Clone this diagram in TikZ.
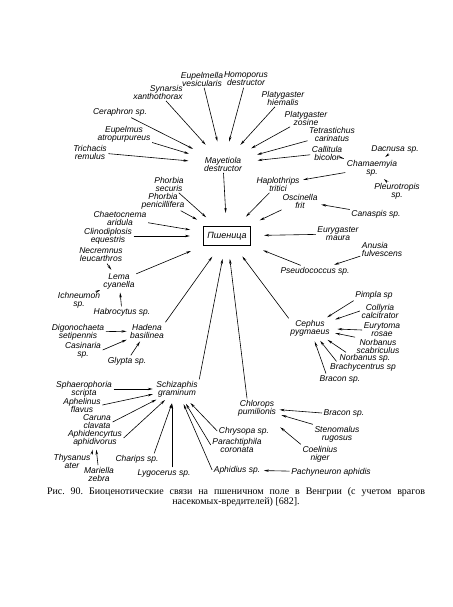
\documentclass[tikz,border=0pt]{standalone}
\usepackage{fontspec}
\setmainfont{Liberation Serif}
\newfontfamily\labfont{Liberation Sans}
\usetikzlibrary{arrows.meta}

\begin{document}
\begin{tikzpicture}[
    x=1pt, y=-1pt,
    every node/.style={font=\labfont\itshape\fontsize{8.5}{8}\selectfont},
    sp/.style={align=center, inner sep=1.5pt},
    host/.style={rectangle, draw, line width=1.1pt, minimum width=47pt, minimum height=19pt, inner sep=2pt},
    arr/.style={-{Stealth[length=5pt,width=2.4pt]}, line width=0.6pt, shorten >=2pt},
    tohost/.style={arr, shorten >=13pt},
    tomay/.style={arr, shorten >=14pt}
]
\useasboundingbox[fill=white] (0,0) rectangle (452,607);

% Host plant
\node[host, font=\labfont\itshape\fontsize{9}{9}\selectfont] (wheat) at (227,236) {Пшеница};

% Mayetiola and its enemies
\node[sp] (may) at (223,164) {Mayetiola\\destructor};
\node[sp] (eupla) at (202,79) {Eupelmella\\vesicularis};
\node[sp] (homo) at (246,79) {Homoporus\\destructor};
\node[sp, align=right] (syn) at (158,92) {Synarsis\\xanthothorax};
\node[sp] (cera) at (120,112) {Ceraphron sp.};
\node[sp] (eupel) at (124,134) {Eupelmus\\atropurpureus};
\node[sp] (tric) at (90,152) {Trichacis\\remulus};
\node[sp] (plh) at (283,98) {Platygaster\\hiemalis};
\node[sp] (plz) at (306,118) {Platygaster\\zosine};
\node[sp] (tetr) at (332,134) {Tetrastichus\\carinatus};
\node[sp] (call) at (327,153) {Callitula\\bicolor};

\foreach \s in {eupla,homo,syn,cera,eupel,tric,plh,plz,tetr,call}
  \draw[tomay] (\s) -- (may);
\draw[tohost] (may) -- (wheat);

% Chamaemyia, Haplothrips
\node[sp] (cham) at (372,168) {Chamaemyia\\sp.};
\node[sp] (dac) at (395,149) {Dacnusa sp.};
\node[sp] (pleu) at (397,191) {Pleurotropis\\sp.};
\node[sp] (hapl) at (278,184) {Haplothrips\\tritici};

\draw[arr] (call) -- (cham);
\draw[arr] (dac) -- (cham);
\draw[arr] (pleu) -- (cham);
\draw[arr] (cham) -- (hapl);
\draw[tohost] (hapl) -- (wheat);

% right side pests
\node[sp] (osc) at (300,201) {Oscinella\\frit};
\node[sp] (cana) at (376,214) {Canaspis sp.};
\node[sp] (eury) at (338,234) {Eurygaster\\maura};
\node[sp, align=left] (anus) at (382,249) {Anusia\\ fulvescens};
\node[sp] (pseu) at (315,271) {Pseudococcus sp.};

\draw[arr] (cana) -- (osc);
\draw[tohost] (osc) -- (wheat);
\draw[tohost] (eury) -- (wheat);
\draw[arr] (anus) -- (pseu);
\draw[tohost] (pseu) -- (wheat);

% left side pests
\node[sp] (phs) at (169,184) {Phorbia\\securis};
\node[sp] (php) at (163,201) {Phorbia\\penicillifera};
\node[sp] (chae) at (120,218) {Chaetocnema\\aridula};
\node[sp] (clin) at (108,236) {Clinodiplosis\\equestris};
\node[sp] (necr) at (101,255) {Necremnus\\leucarthros};
\node[sp] (lema) at (119,281) {Lema\\cyanella};
\node[sp] (ichn) at (79,300) {Ichneumon\\sp.};
\node[sp] (habr) at (122,312) {Habrocytus sp.};

\foreach \s in {phs,php,chae,clin,lema}
  \draw[tohost] (\s) -- (wheat);
\draw[arr] (necr) -- (lema);
\draw[arr] (ichn) -- (lema);
\draw[arr] (habr) -- (lema);

% Hadena
\node[sp] (hade) at (147,331) {Hadena\\basilinea};
\node[sp] (digo) at (78,332) {Digonochaeta\\setipennis};
\node[sp] (casi) at (83,350) {Casinaria\\sp.};
\node[sp] (glyp) at (127,361) {Glypta sp.};

\draw[arr] (digo) -- (hade);
\draw[arr] (casi.east) -- (hade);
\draw[arr] (glyp) -- (hade);
\draw[tohost] (hade.north east) -- (wheat);

% Schizaphis and its enemies
\node[sp] (schi) at (177,389) {Schizaphis\\graminum};
\node[sp] (spha) at (84,389) {Sphaerophoria\\scripta};
\node[sp] (aphe) at (82,405) {Aphelinus\\flavus};
\node[sp] (caru) at (97,422) {Caruna\\clavata};
\node[sp] (aphi) at (95,438) {Aphidencyrtus\\aphidivorus};
\node[sp] (thys) at (72,461) {Thysanus\\ater};
\node[sp] (mari) at (99,474) {Mariella\\zebra};
\node[sp] (char) at (137,459) {Charips sp.};
\node[sp] (lygo) at (164,473) {Lygocerus sp.};
\node[sp] (chry) at (244,431) {Chrysopa sp.};
\node[sp] (para) at (237,445) {Parachtiphila\\coronata};
\node[sp] (aphd) at (237,470) {Aphidius sp.};
\node[sp] (pach) at (331,472) {Pachyneuron aphidis};

\draw[arr] (spha) -- (schi);
\draw[arr] (aphe.east) -- (schi);
\draw[arr] (caru.east) -- (schi);
\draw[arr] (aphi.east) -- (schi);
\draw[arr] (thys.north east) -- (aphi);
\draw[arr] (mari) -- (aphi);
\draw[arr, shorten >=5pt] ([xshift=-6pt]char.north east) -- (schi);
\draw[arr, shorten >=5pt] ([xshift=8pt]lygo.north) -- ([xshift=8pt]lygo.north |- schi.south);
\draw[arr, shorten >=6pt] (chry.west) -- (schi);
\draw[arr, shorten >=6pt] (para.west) -- (schi);
\draw[arr, shorten >=6pt] (aphd.west) -- (schi);
\draw[arr] (pach) -- (aphd);
\draw[tohost] (schi.north east) -- (wheat);

% Chlorops
\node[sp] (chlo) at (257,408) {Chlorops\\pumilionis};
\node[sp] (bra2) at (344,413) {Bracon sp.};
\node[sp] (sten) at (337,434) {Stenomalus\\rugosus};
\node[sp] (coel) at (320,454) {Coelinius\\niger};

\draw[arr] (bra2.west) -- (chlo);
\draw[arr, shorten >=4pt] (sten.north west) -- (chlo);
\draw[arr, shorten >=15pt] (coel.north west) -- (chlo);
\draw[tohost] ([xshift=-10pt]chlo.north) -- (wheat);

% Cephus
\node[sp] (ceph) at (310,328) {Cephus\\pygmaeus};
\node[sp] (pimp) at (374,295) {Pimpla sp};
\node[sp] (coll) at (380,311) {Collyria\\calcitrator};
\node[sp] (eurt) at (382,330) {Eurytoma\\rosae};
\node[sp] (norb1) at (378,346) {Norbanus\\scabriculus};
\node[sp] (norb2) at (365,358) {Norbanus sp.};
\node[sp] (brac) at (363,367) {Brachycentrus sp};
\node[sp] (bra1) at (340,379) {Bracon sp.};

\draw[arr] (pimp.south west) -- (ceph);
\draw[arr, shorten >=4pt] (coll.west) -- (ceph);
\draw[arr, shorten >=6pt] (eurt.west) -- (ceph);
\draw[arr, shorten >=4pt] (norb1.north west) -- (ceph);
\draw[arr, shorten >=4pt] ([xshift=8pt]norb2.north west) -- (ceph);
\draw[arr, shorten >=4pt] ([xshift=8pt]brac.north west) -- (ceph);
\draw[arr, shorten >=4pt] ([xshift=8pt]bra1.north west) -- (ceph);
\draw[tohost] (ceph.north west) -- (wheat);

% caption
\node[font=\rmfamily\fontsize{10}{10}\selectfont\frenchspacing, align=center] (cap) at (236,497)
  {\makebox[378pt][s]{Рис. 90. Биоценотические связи на пшеничном поле в Венгрии (с учетом врагов}\\
   насекомых-вредителей) [682].};

\end{tikzpicture}
\end{document}
